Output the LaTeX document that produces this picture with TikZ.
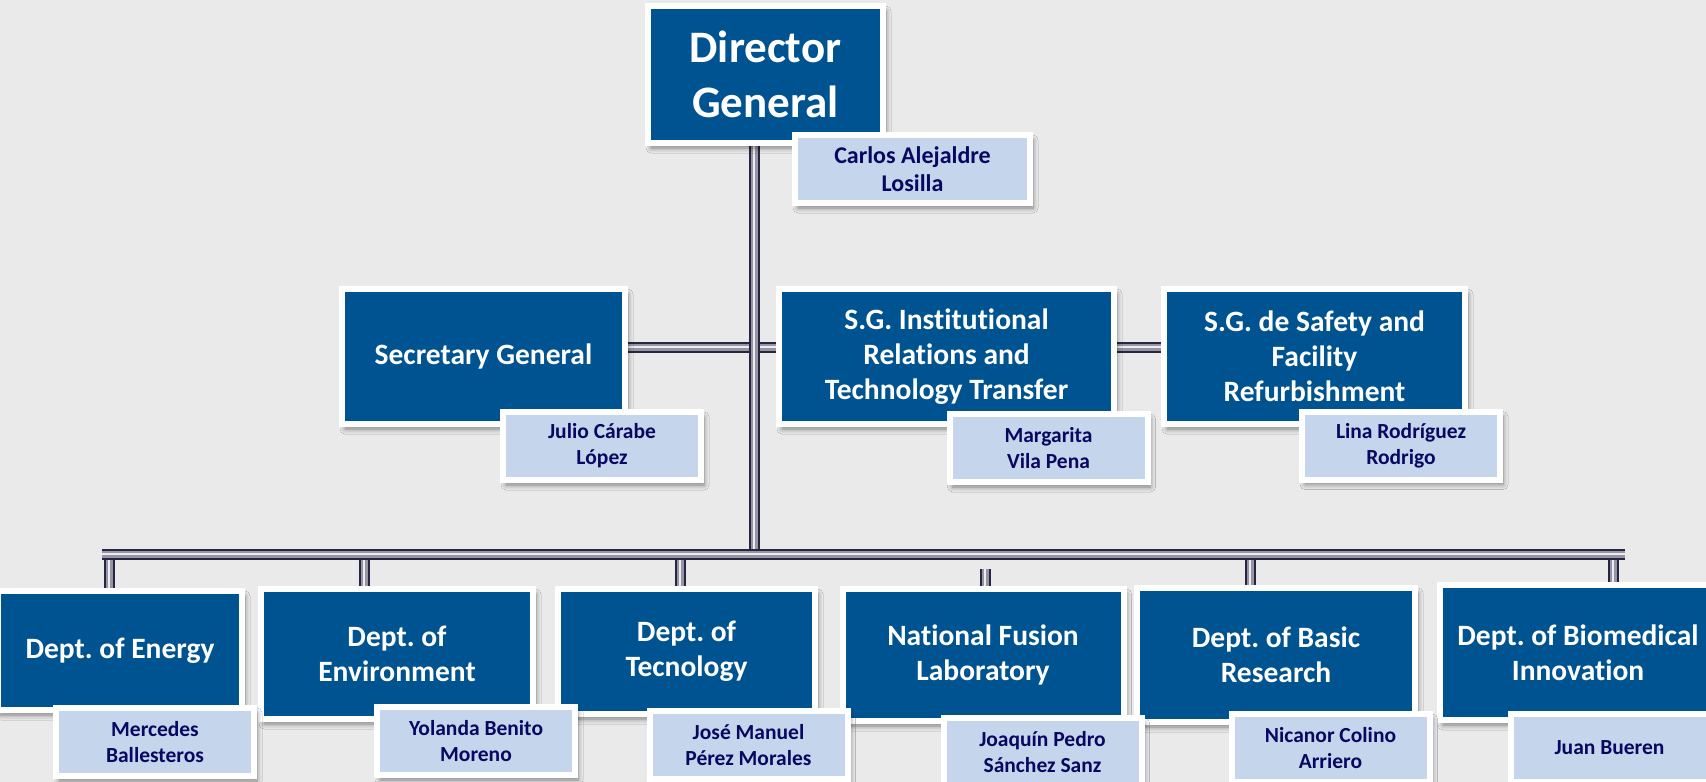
\documentclass[tikz,border=0pt]{standalone}
\usepackage{fontspec}
\setmainfont{Carlito}[Ligatures=NoCommon]
\usetikzlibrary{shadows.blur}
\frenchspacing

\definecolor{pagebg}{RGB}{234,234,234}
\definecolor{unitblue}{RGB}{0,83,145}
\definecolor{namefill}{RGB}{197,213,235}
\definecolor{nametext}{RGB}{8,8,98}
\definecolor{pipedark}{RGB}{38,38,66}
\definecolor{pipemid}{RGB}{150,150,162}
\definecolor{pipelight}{RGB}{236,236,242}

\pgfdeclarelayer{background}
\pgfsetlayers{background,main}

\begin{document}
\begin{tikzpicture}[x=1pt,y=-1pt,
  boxshadow/.style={blur shadow={shadow xshift=3pt, shadow yshift=-5pt,
      shadow blur radius=5pt, shadow blur steps=6, shadow opacity=45}},
  unit/.style={boxshadow, fill=unitblue, draw=white, line width=6pt,
      text=white, align=center, inner sep=0pt,
      font=\bfseries\fontsize{29.5}{35}\selectfont},
  person/.style={boxshadow, fill=namefill, draw=white, line width=6pt,
      text=nametext, align=center, inner sep=0pt,
      minimum width=198pt, minimum height=68pt,
      font=\bfseries\fontsize{21.5}{26}\selectfont},
  pipe/.style={line width=11pt, draw=pipedark,
      postaction={draw=pipemid, line width=7pt},
      postaction={draw=pipelight, line width=2.5pt}}
]
\useasboundingbox (0,0) rectangle (1706,782);
\clip (0,0) rectangle (1706,782);

% --- top: director and sub-directorates
\node[unit, font=\bfseries\fontsize{45}{55}\selectfont,
      minimum width=235pt, minimum height=137pt] (dg) at (765.5,74.5) {Director\\General};
\node[unit, minimum width=283pt, minimum height=135pt] (sg)   at (483.5,356.5) {Secretary General};
\node[unit, minimum width=335pt, minimum height=135pt] (inst) at (946.5,356.5) {S.G. Institutional\\Relations and\\Technology Transfer};
\node[unit, minimum width=301pt, minimum height=135pt] (safe) at (1314.5,356.5) {S.G. de Safety and\\Facility\\Refurbishment};

% --- departments
\node[unit, minimum width=244pt, minimum height=119pt] (en)  at (120,650.5)  {Dept. of Energy};
\node[unit, minimum width=272pt, minimum height=130pt] (env) at (397,654)    {Dept. of\\Environment};
\node[unit, minimum width=257pt, minimum height=125pt] (tec) at (686.5,651.5) {Dept. of\\Tecnology};
\node[unit, minimum width=281pt, minimum height=132pt] (fus) at (983,655)    {National Fusion\\Laboratory};
\node[unit, minimum width=278pt, minimum height=134pt] (bas) at (1276,655)   {Dept. of Basic\\Research};
\node[unit, minimum width=276pt, minimum height=135pt] (bio) at (1578,652.5) {Dept. of Biomedical\\Innovation};

% --- people in charge
\node[person, minimum width=235pt, font=\bfseries\fontsize{24}{28}\selectfont] (ndg) at (912.5,169) {Carlos Alejaldre\\Losilla};
\node[person] (nsg)   at (602,446)    {Julio Cárabe\\López};
\node[person] (ninst) at (1048.5,448) {Margarita\\Vila Pena};
\node[person] (nsafe) at (1401,445.5) {Lina Rodríguez\\Rodrigo};
\node[person] (nen)   at (155,742)    {Mercedes\\Ballesteros};
\node[person] (nenv)  at (476,741)    {Yolanda Benito\\Moreno};
\node[person] (ntec)  at (748.5,745)  {José Manuel\\Pérez Morales};
\node[person] (nfus)  at (1042.5,752) {Joaquín Pedro\\Sánchez Sanz};
\node[person] (nbas)  at (1330.5,748) {Nicanor Colino\\Arriero};
\node[person] (nbio)  at (1609.5,748) {Juan Bueren};

% --- connecting pipes, behind the boxes
\begin{pgfonlayer}{background}
  \fill[pagebg] (0,0) rectangle (1706,782);
  \coordinate (row)  at (754,347);
  \coordinate (hub)  at (754,554);
  \coordinate (barL) at (102,554);
  \coordinate (barR) at (1625,554);
  \coordinate (d1) at (109,554);
  \coordinate (d2) at (364,554);
  \coordinate (d3) at (680,554);
  \coordinate (d4) at (985,569);
  \coordinate (d5) at (1250,554);
  \coordinate (d6) at (1613,554);

  \draw[pipe] (sg.east |- row) -- (inst.west |- row);
  \draw[pipe] (inst.east |- row) -- (safe.west |- row);
  \draw[pipe] (dg.south -| hub) -- (hub);

  \draw[pipe] (d1) -- (d1 |- en.north);
  \draw[pipe] (d2) -- (d2 |- env.north);
  \draw[pipe] (d3) -- (d3 |- tec.north);
  \draw[pipe] (d4) -- (d4 |- fus.north);
  \draw[pipe] (d5) -- (d5 |- bas.north);
  \draw[pipe] (d6) -- (d6 |- bio.north);
  \draw[pipe] (barL) -- (barR);
\end{pgfonlayer}
\end{tikzpicture}
\end{document}
